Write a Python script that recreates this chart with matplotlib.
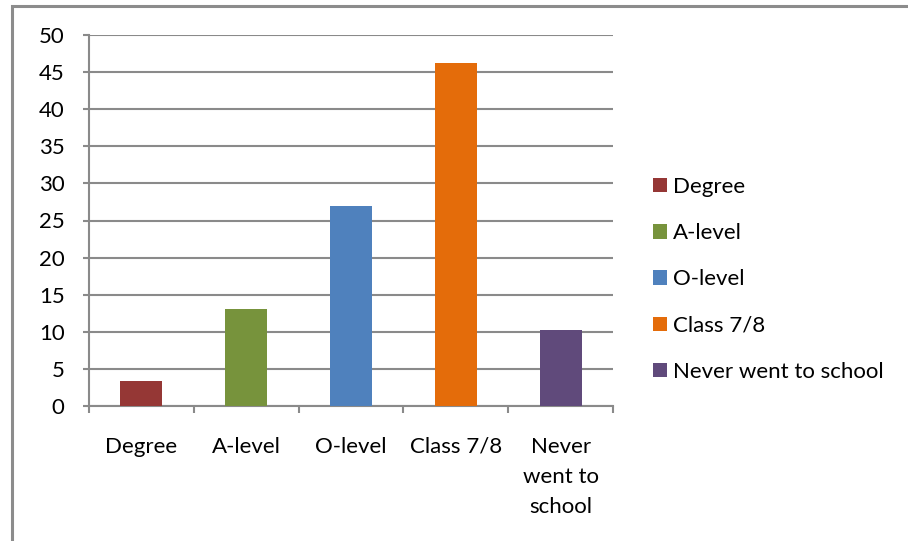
import matplotlib
matplotlib.use("Agg")
import matplotlib.pyplot as plt
from matplotlib.patches import Rectangle, Patch

categories = ["Degree", "A-level", "O-level", "Class 7/8", "Never went to school"]
tick_labels = ["Degree", "A-level", "O-level", "Class 7/8", "Never\nwent to\nschool"]
values = [3.4, 13.1, 27.0, 46.2, 10.3]
colors = ["#953735", "#77933C", "#4F81BD", "#E46C0A", "#604A7B"]
yticks = [0, 5, 10, 15, 20, 25, 30, 35, 40, 45, 50]

plt.rcParams['font.family'] = ['Lato', 'DejaVu Sans']
W, H = 908, 541
fig = plt.figure(figsize=(W/100, H/100), dpi=100)
fig.patch.set_facecolor("white")

# outer chart border
fig.patches.append(Rectangle((12/W, -0.05), 1.2, 1 - 6/H + 0.05, transform=fig.transFigure,
                             fill=False, edgecolor="#8c8c8c", linewidth=2.2))

ax = fig.add_axes([89/W, 1 - 406/H, (613-89)/W, (406-35)/H])
x = list(range(len(categories)))
ax.bar(x, values, width=0.4, color=colors, zorder=3)

ax.set_xlim(-0.5, 4.5)
ax.set_ylim(0, 50)
ax.set_yticks(yticks)
ax.set_yticklabels([str(v) for v in yticks])
ax.yaxis.grid(True, color="#8a8a8a", linewidth=1.5, zorder=0)
ax.set_axisbelow(True)

for s in ["top", "right"]:
    ax.spines[s].set_visible(False)
for s in ["left", "bottom"]:
    ax.spines[s].set_color("#8a8a8a")
    ax.spines[s].set_linewidth(1.5)

ax.tick_params(axis="y", length=4.5, width=1.5, color="#8a8a8a", pad=13, labelsize=16)
ax.set_xticks([-0.5, 0.5, 1.5, 2.5, 3.5, 4.5])
ax.set_xticklabels([])
ax.tick_params(axis="x", which="major", length=5, width=1.5, color="#8a8a8a")
ax.set_xticks(x, minor=True)
ax.set_xticklabels(tick_labels, minor=True, fontsize=16, linespacing=1.65)
ax.tick_params(axis="x", which="minor", length=0, pad=22)

handles = [Patch(facecolor=c, edgecolor="none") for c in colors]
fig.legend(handles, categories, loc="upper left", bbox_to_anchor=(653/W, 1 - 177/H),
           frameon=False, fontsize=16, handlelength=0.63, handleheight=0.63,
           handletextpad=0.27, labelspacing=1.18, borderaxespad=0, borderpad=0)

fig.savefig("out.png", dpi=100)
